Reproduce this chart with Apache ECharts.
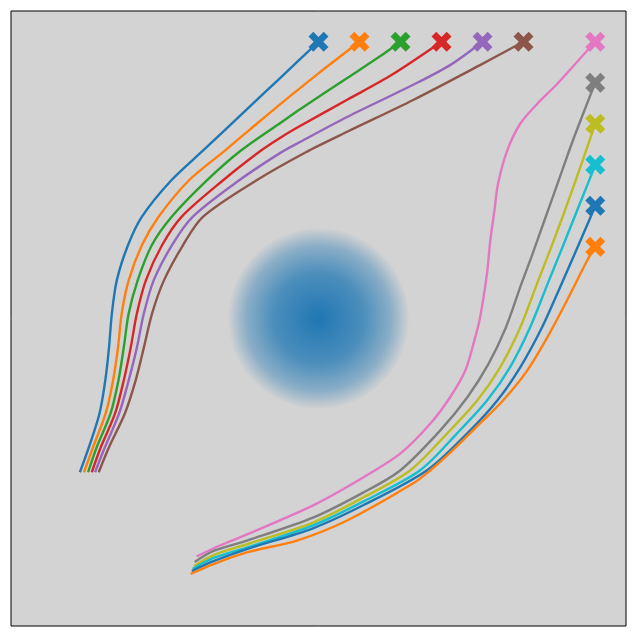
<!DOCTYPE html>
<html>
<head>
<meta charset="utf-8">
<script src="https://cdn.jsdelivr.net/npm/echarts@6/dist/echarts.min.js"></script>
<style>
  html, body { margin: 0; padding: 0; background: #fff; }
  #chart { width: 636px; height: 636px; }
</style>
</head>
<body>
<div id="chart"></div>
<script>
// trajectories, group going up to the top row of targets
const upPaths = [
  [[-5.82,-3.75],[-5.60,-3.14],[-5.34,-2.31],[-5.20,-1.51],[-5.11,-0.71],[-5.04,0.12],[-4.92,0.93],[-4.65,1.78],[-4.31,2.48],[-3.60,3.36],[-2.80,4.11],[-1.73,5.12],[-0.93,5.87],[0,6.75]],
  [[-5.72,-3.75],[-5.50,-3.14],[-5.19,-2.31],[-5.01,-1.51],[-4.89,-0.71],[-4.80,0.12],[-4.63,0.93],[-4.31,1.78],[-3.90,2.48],[-3.17,3.36],[-2.29,4.09],[-1.66,4.62],[-0.93,5.23],[0,5.98],[1.00,6.75]],
  [[-5.62,-3.75],[-5.41,-3.14],[-5.07,-2.31],[-4.88,-1.51],[-4.75,-0.71],[-4.63,0.12],[-4.41,0.93],[-4.07,1.78],[-3.58,2.48],[-2.73,3.36],[-1.90,4.09],[-0.93,4.77],[-0.44,5.11],[0.71,5.87],[1.51,6.40],[2.00,6.75]],
  [[-5.53,-3.75],[-5.31,-3.14],[-4.96,-2.31],[-4.75,-1.51],[-4.58,-0.71],[-4.43,0.12],[-4.21,0.93],[-3.82,1.78],[-3.34,2.48],[-2.34,3.36],[-1.41,4.09],[-0.93,4.41],[-0.44,4.70],[0.71,5.34],[1.80,5.95],[3.00,6.75]],
  [[-5.45,-3.75],[-5.21,-3.14],[-4.86,-2.31],[-4.63,-1.51],[-4.43,-0.71],[-4.26,0.12],[-4.02,0.93],[-3.58,1.78],[-3.07,2.48],[-1.95,3.36],[-0.93,4.04],[-0.44,4.31],[0.71,4.92],[2.31,5.70],[3.21,6.18],[4.00,6.75]],
  [[-5.36,-3.75],[-5.11,-3.14],[-4.72,-2.31],[-4.46,-1.51],[-4.26,-0.71],[-4.06,0.12],[-3.77,0.93],[-3.31,1.78],[-2.82,2.48],[-1.53,3.36],[-0.32,4.05],[0.71,4.56],[2.31,5.33],[3.94,6.18],[5.00,6.75]]
]

// trajectories, group going to the right column of targets
const rightPaths = [
  [[-2.97,-5.80],[-2.39,-5.53],[-1.73,-5.26],[-0.12,-4.55],[1.10,-3.87],[2.00,-3.29],[2.73,-2.56],[3.21,-1.92],[3.58,-1.27],[3.80,-0.54],[3.94,0.02],[4.11,1.10],[4.19,1.90],[4.29,2.63],[4.38,3.29],[4.60,4.09],[4.92,4.75],[5.33,5.23],[5.82,5.72],[6.55,6.53],[6.75,6.75]],
  [[-3.02,-5.94],[-2.56,-5.67],[-1.73,-5.41],[-0.12,-4.85],[1.10,-4.24],[2.00,-3.70],[2.97,-2.73],[3.63,-1.92],[4.15,-1.10],[4.57,-0.22],[4.95,0.85],[5.19,1.49],[5.51,2.39],[5.83,3.29],[6.20,4.33],[6.75,5.75]],
  [[-3.04,-6.04],[-2.56,-5.77],[-1.73,-5.50],[-0.12,-4.97],[1.10,-4.36],[2.24,-3.70],[3.14,-2.80],[3.87,-2.00],[4.43,-1.19],[4.92,-0.22],[5.33,0.85],[5.58,1.49],[5.92,2.39],[6.27,3.36],[6.75,4.75]],
  [[-3.07,-6.11],[-2.56,-5.84],[-1.73,-5.58],[-0.12,-5.04],[1.10,-4.46],[2.48,-3.70],[3.38,-2.80],[4.11,-2.00],[4.67,-1.19],[5.16,-0.22],[5.59,0.85],[5.85,1.49],[6.21,2.39],[6.57,3.29],[6.75,3.75]],
  [[-3.09,-6.16],[-2.56,-5.92],[-1.73,-5.62],[-0.12,-5.11],[1.10,-4.55],[2.65,-3.70],[3.63,-2.80],[4.36,-2.00],[4.92,-1.19],[5.45,-0.22],[5.93,0.85],[6.21,1.49],[6.60,2.39],[6.75,2.75]],
  [[-3.12,-6.23],[-2.56,-5.99],[-1.73,-5.70],[-0.51,-5.41],[0.71,-4.92],[2.31,-4.02],[2.73,-3.70],[3.14,-3.34],[3.94,-2.56],[4.50,-2.00],[5.09,-1.27],[5.58,-0.46],[6.06,0.44],[6.55,1.41],[6.75,1.75]]
]

// the attractor in the middle: [x, y, radius]
const attractor = [[0, 0, 2.22]]

const colors = ['#1f77b4', '#ff7f0e', '#2ca02c', '#d62728', '#9467bd', '#8c564b',
  '#e377c2', '#7f7f7f', '#bcbd22', '#17becf', '#1f77b4', '#ff7f0e']

// filled X marker like matplotlib's 'X'
const xMarker = 'path://M2.4,0 L5,2.6 L7.6,0 L10,2.4 L7.4,5 L10,7.6 L7.6,10 L5,7.4 L2.4,10 L0,7.6 L2.6,5 L0,2.4 Z'

const chart = echarts.init(document.getElementById('chart'))

let series = [
  {
    type: 'custom',
    z: 1,
    silent: true,
    data: attractor,
    renderItem(params, api) {
      const c = api.coord([api.value(0), api.value(1)])
      const r = api.size([api.value(2), 0])[0]
      return {
        type: 'circle',
        shape: { cx: c[0], cy: c[1], r: r },
        style: {
          fill: {
            type: 'radial', x: 0.5, y: 0.5, r: 0.5,
            colorStops: [
              { offset: 0, color: 'rgba(31,119,180,1)' },
              { offset: 0.5, color: 'rgba(31,119,180,0.75)' },
              { offset: 0.8, color: 'rgba(31,119,180,0.4)' },
              { offset: 1, color: 'rgba(31,119,180,0)' }
            ]
          }
        }
      }
    }
  }
]

const allPaths = upPaths.concat(rightPaths)
for (let i = 0; i < allPaths.length; i++) {
  const p = allPaths[i]
  series.push({
    type: 'line',
    z: 2,
    data: p,
    smooth: 0.3,
    showSymbol: false,
    silent: true,
    lineStyle: { color: colors[i], width: 2.4 }
  })
  series.push({
    type: 'scatter',
    z: 3,
    data: [p[p.length - 1]],
    symbol: xMarker,
    symbolSize: 20,
    silent: true,
    itemStyle: { color: colors[i], opacity: 1 }
  })
}

const option = {
  animation: false,
  backgroundColor: '#ffffff',
  grid: {
    left: 11, top: 11, right: 10, bottom: 10,
    show: true,
    backgroundColor: '#d3d3d3',
    borderColor: '#000000',
    borderWidth: 1
  },
  xAxis: {
    type: 'value', min: -7.5, max: 7.5,
    axisLine: { show: false }, axisTick: { show: false },
    axisLabel: { show: false }, splitLine: { show: false }
  },
  yAxis: {
    type: 'value', min: -7.5, max: 7.5,
    axisLine: { show: false }, axisTick: { show: false },
    axisLabel: { show: false }, splitLine: { show: false }
  },
  series: series
}

chart.setOption(option)
</script>
</body>
</html>
